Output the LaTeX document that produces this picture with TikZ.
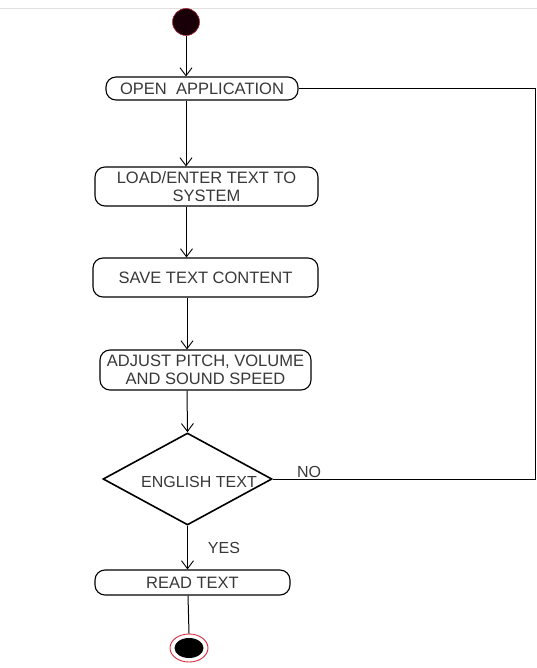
\documentclass[tikz,border=0pt]{standalone}
\usepackage{fontspec}
\setmainfont{Liberation Sans}
\usetikzlibrary{shapes.geometric,arrows.meta}
\begin{document}
\begin{tikzpicture}[x=1pt,y=-1pt,
  act/.style={draw, line width=1.1pt, rounded corners=10pt, inner sep=0pt, align=center,
    font=\fontsize{16.5}{18}\selectfont, text=black!78},
  flow/.style={line width=1pt, -{Straight Barb[length=8pt,width=12pt,line width=0.9pt]}},
  plain/.style={line width=1pt},
  lbl/.style={font=\fontsize{16}{18}\selectfont, text=black!78, inner sep=0pt}]
\useasboundingbox (0,0) rectangle (537,668);
\draw[black!12, line width=0.8pt] (0,8) -- (537,8);
\node[circle, minimum size=27pt, inner sep=0pt, fill={rgb,255:red,25;green,0;blue,8}, draw={rgb,255:red,170;green,40;blue,60}, line width=0.6pt] (start) at (186,22) {};
\node[act, minimum width=192pt, minimum height=23pt] (open) at (202,88.5) {OPEN\ \ APPLICATION};
\node[act, minimum width=223pt, minimum height=39pt] (load) at (206.5,186.5) {LOAD/ENTER TEXT TO\\SYSTEM};
\node[act, minimum width=225pt, minimum height=39pt] (save) at (205.5,277.5) {SAVE TEXT CONTENT};
\node[act, minimum width=211pt, minimum height=40pt] (adjust) at (205.5,370) {ADJUST PITCH, VOLUME\\AND SOUND SPEED};
\node[diamond, draw, line width=1.6pt, minimum width=169pt, minimum height=92pt, inner sep=0pt] (dec) at (187.5,479) {};
\node[lbl] (dect) at (199,482) {ENGLISH TEXT};
\node[act, minimum width=195pt, minimum height=25pt] (read) at (192.5,582.5) {READ TEXT};
\node[ellipse, minimum width=38pt, minimum height=28pt, inner sep=0pt, draw={rgb,255:red,220;green,40;blue,60}, line width=0.9pt] (endo) at (189,648) {};
\node[ellipse, minimum width=29pt, minimum height=20pt, inner sep=0pt, fill=black] (endi) at (189,648) {};
\coordinate (rb) at (535,479);
\node[lbl] (no) at (309,472) {NO};
\node[lbl] (yes) at (224,548) {YES};
\draw[flow] (start) -- (start |- open.north);
\draw[flow] (open.south -| start) -- (load.north -| start);
\draw[flow] ([xshift=0.5pt]load.south -| start) -- ([xshift=0.5pt]save.north -| start);
\draw[flow] ([xshift=1pt]save.south -| start) -- ([xshift=1pt]adjust.north -| start);
\draw[flow] ([xshift=1pt]adjust.south -| start) -- (dec.north);
\draw[flow] (dec.south) -- (read.north -| dec.south);
\draw[plain] ([xshift=-1pt]read.south -| endo) -- (endo.north);
\draw[plain] (dec.east) -- (rb) |- (open.east);
\end{tikzpicture}
\end{document}
